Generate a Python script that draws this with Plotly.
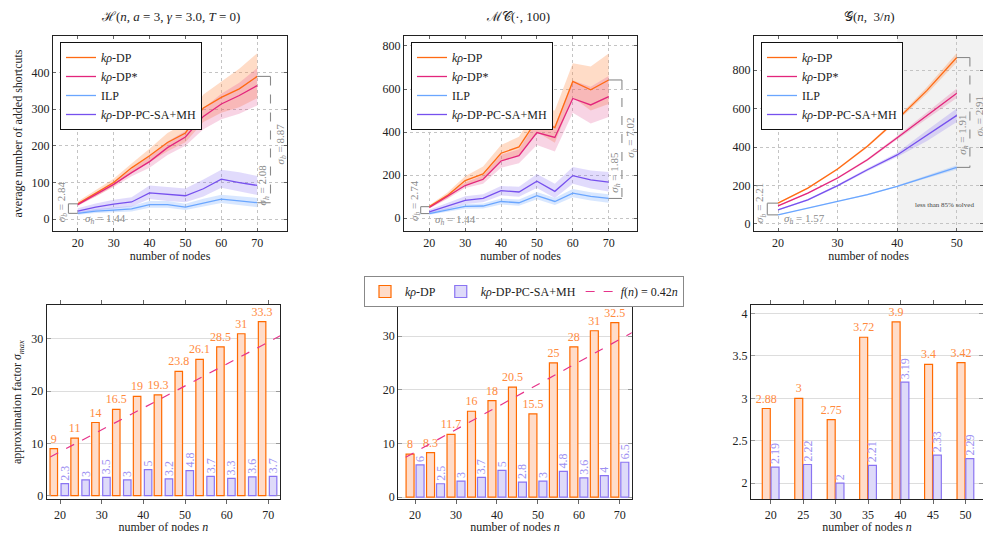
import plotly.graph_objects as go

# ---------------- DATA ----------------
n_top = [20, 25, 30, 35, 40, 45, 50, 55, 60, 65, 70]
n_g = [20, 25, 30, 35, 40, 45, 50]

# H(n, a=3, gamma=3.0, T=0)
h_dp = [42, 70, 100, 140, 173, 209, 235, 303, 332, 355, 389]
h_dp_up = [48, 78, 110, 152, 192, 235, 262, 340, 375, 410, 452]
h_dp_lo = [38, 62, 90, 128, 155, 185, 210, 265, 290, 305, 330]
h_dps = [40, 67, 95, 127, 157, 195, 224, 280, 314, 337, 364]
h_dps_up = [44, 73, 101, 136, 172, 212, 240, 302, 342, 372, 412]
h_dps_lo = [36, 61, 88, 117, 140, 175, 200, 245, 272, 287, 310]
h_ilp = [16, 22, 25, 28, 40, 40, 33, 45, 55, 50, 45]
h_ilp_up = [20, 28, 32, 36, 50, 50, 42, 56, 67, 63, 58]
h_ilp_lo = [12, 17, 19, 21, 31, 31, 25, 35, 44, 39, 33]
h_pc = [22, 33, 41, 47, 72, 68, 64, 83, 109, 100, 92]
h_pc_up = [30, 43, 53, 60, 92, 88, 84, 108, 135, 128, 118]
h_pc_lo = [15, 24, 30, 35, 55, 50, 46, 62, 86, 77, 66]

# MC(., 100)
m_dp = [54, 105, 175, 206, 302, 331, 457, 421, 635, 596, 642]
m_dp_up = [60, 118, 195, 240, 340, 378, 510, 500, 720, 705, 765]
m_dp_lo = [48, 92, 155, 175, 265, 290, 400, 350, 560, 500, 530]
m_dps = [50, 100, 152, 181, 266, 291, 398, 375, 556, 526, 565]
m_dps_up = [55, 110, 166, 200, 295, 320, 450, 430, 640, 610, 660]
m_dps_lo = [45, 90, 140, 160, 235, 255, 340, 310, 490, 440, 470]
m_ilp = [22, 38, 55, 57, 78, 72, 105, 78, 117, 102, 92]
m_ilp_up = [28, 47, 66, 69, 92, 87, 122, 94, 136, 121, 112]
m_ilp_lo = [16, 30, 44, 46, 64, 58, 88, 62, 98, 83, 72]
m_pc = [30, 55, 83, 92, 128, 122, 172, 125, 198, 178, 168]
m_pc_up = [40, 70, 102, 112, 150, 146, 205, 160, 238, 222, 215]
m_pc_lo = [22, 42, 66, 74, 106, 100, 140, 94, 160, 138, 124]

# G(n, 3/n)
g_dp = [108, 186, 286, 404, 543, 695, 866]
g_dp_up = [111, 190, 291, 410, 552, 712, 890]
g_dp_lo = [105, 182, 281, 398, 534, 678, 842]
g_dps = [94, 160, 239, 334, 448, 565, 680]
g_dps_up = [97, 164, 244, 340, 457, 582, 705]
g_dps_lo = [91, 156, 234, 328, 439, 548, 655]
g_ilp = [47, 82, 120, 152, 195, 245, 294]
g_ilp_up = [49, 85, 123, 156, 200, 252, 305]
g_ilp_lo = [45, 79, 117, 148, 190, 238, 283]
g_pc = [73, 125, 199, 282, 359, 460, 565]
g_pc_up = [76, 130, 205, 290, 370, 488, 600]
g_pc_lo = [70, 120, 193, 274, 348, 432, 530]

# approximation factors
bl_dp = [9, 11, 14, 16.5, 19, 19.3, 23.8, 26.1, 28.5, 31, 33.3]
bl_pc = [2.3, 3, 3.5, 3, 5, 3.2, 4.8, 3.7, 3.3, 3.6, 3.7]
bm_dp = [8, 8.3, 11.7, 16, 18, 20.5, 15.5, 25, 28, 31, 32.5]
bm_pc = [6, 2.5, 3, 3.7, 5, 2.8, 3, 4.8, 3.6, 4, 6.5]
br_dp = [2.88, 3, 2.75, 3.72, 3.9, 3.4, 3.42]
br_pc = [2.19, 2.22, 2, 2.21, 3.19, 2.33, 2.29]

fn_coef = 0.42
fn_n = [10, 80]

sig_labels = {
    "h": ("2.84", "1.44", "2.08", "8.87"),
    "m": ("2.74", "1.44", "1.85", "7.02"),
    "g": ("2.21", "1.57", "1.91", "2.91"),
}

# ---------------- STYLE ----------------
FONT = "Liberation Serif"
C_DP = "#ff6a13"
C_DPS = "#e3257c"
C_ILP = "#6aa6ff"
C_PC = "#7650ee"
B_DP = "rgba(255,140,70,0.30)"
B_DPS = "rgba(225,60,130,0.22)"
B_ILP = "rgba(100,160,255,0.25)"
B_PC = "rgba(120,90,240,0.22)"
GRAY = "#8a8a8a"

fig = go.Figure()


def band(x, up, lo, col, xa, ya):
    fig.add_trace(go.Scatter(x=list(x) + list(x)[::-1], y=list(up) + list(lo)[::-1],
                             fill="toself", fillcolor=col, line=dict(width=0),
                             mode="lines", hoverinfo="skip", showlegend=False,
                             xaxis=xa, yaxis=ya))


def line(x, y, col, name, xa, ya, leg):
    fig.add_trace(go.Scatter(x=x, y=y, mode="lines", line=dict(color=col, width=1.3),
                             name=name, xaxis=xa, yaxis=ya, legend=leg))


names = ["<i>kρ</i>-DP", "<i>kρ</i>-DP*", "ILP", "<i>kρ</i>-DP-PC-SA+MH"]
panels = [
    ("x", "y", "legend", n_top, (h_dp, h_dp_up, h_dp_lo), (h_dps, h_dps_up, h_dps_lo),
     (h_ilp, h_ilp_up, h_ilp_lo), (h_pc, h_pc_up, h_pc_lo)),
    ("x2", "y2", "legend2", n_top, (m_dp, m_dp_up, m_dp_lo), (m_dps, m_dps_up, m_dps_lo),
     (m_ilp, m_ilp_up, m_ilp_lo), (m_pc, m_pc_up, m_pc_lo)),
    ("x3", "y3", "legend3", n_g, (g_dp, g_dp_up, g_dp_lo), (g_dps, g_dps_up, g_dps_lo),
     (g_ilp, g_ilp_up, g_ilp_lo), (g_pc, g_pc_up, g_pc_lo)),
]
for xa, ya, leg, xs, dp, dps, ilp, pc in panels:
    band(xs, dp[1], dp[2], B_DP, xa, ya)
    band(xs, dps[1], dps[2], B_DPS, xa, ya)
    band(xs, ilp[1], ilp[2], B_ILP, xa, ya)
    band(xs, pc[1], pc[2], B_PC, xa, ya)
    line(xs, dp[0], C_DP, names[0], xa, ya, leg)
    line(xs, dps[0], C_DPS, names[1], xa, ya, leg)
    line(xs, ilp[0], C_ILP, names[2], xa, ya, leg)
    line(xs, pc[0], C_PC, names[3], xa, ya, leg)

# ---- bars ----
BAR_DP_FILL, BAR_DP_LINE, BAR_DP_TXT = "#ffdcc9", "#ff6a00", "#ff8a3d"
BAR_PC_FILL, BAR_PC_LINE, BAR_PC_TXT = "#dedaf9", "#8a74f2", "#9d90f2"

bar_sets = [
    ("x4", "y4", n_top, bl_dp, bl_pc, -2.4, 0.24, 1.8, True),
    ("x5", "y5", n_top, bm_dp, bm_pc, -2.2, 0.24, 1.95, False),
    ("x6", "y6", n_g, br_dp, br_pc, -1.3, 0.05, 1.23, False),
]
for xa, ya, xs, dpv, pcv, off1, off2, w, showleg in bar_sets:
    fig.add_trace(go.Bar(x=xs, y=dpv, offset=off1, width=w, xaxis=xa, yaxis=ya,
                         marker=dict(color=BAR_DP_FILL, line=dict(color=BAR_DP_LINE, width=1.2)),
                         text=[str(v) for v in dpv], textposition="outside",
                         textfont=dict(color=BAR_DP_TXT, size=12, family=FONT),
                         cliponaxis=False, constraintext="none",
                         name="<i>kρ</i>-DP", legend="legend4", showlegend=showleg))
    fig.add_trace(go.Bar(x=xs, y=pcv, offset=off2, width=w, xaxis=xa, yaxis=ya,
                         marker=dict(color=BAR_PC_FILL, line=dict(color=BAR_PC_LINE, width=1.2)),
                         text=[str(v) for v in pcv], textposition="outside", textangle=-90,
                         textfont=dict(color=BAR_PC_TXT, size=12, family=FONT),
                         cliponaxis=False, constraintext="none",
                         name="<i>kρ</i>-DP-PC-SA+MH", legend="legend4", showlegend=showleg))

for xa, ya, showleg in [("x4", "y4", True), ("x5", "y5", False)]:
    fig.add_trace(go.Scatter(x=fn_n, y=[fn_coef * v for v in fn_n], mode="lines",
                             line=dict(color="#e6338a", width=1.2, dash="dash"),
                             xaxis=xa, yaxis=ya, name="<i>f</i>(<i>n</i>) = 0.42<i>n</i>",
                             legend="legend4", showlegend=showleg))

# ---------------- LAYOUT ----------------
W, H = 983, 534


def dx(a, b):
    return [a / W, b / W]


def dy(top, bot):
    return [1 - bot / H, 1 - top / H]


tick_font = dict(family=FONT, size=12, color="#222")
title_font = dict(family=FONT, size=12, color="#222")

top_common = dict(showline=True, linecolor="#222", linewidth=1.2, mirror="ticks",
                  ticks="inside", ticklen=3, tickcolor="#666", showgrid=True,
                  gridcolor="#c4c4c4", griddash="dot", gridwidth=1, zeroline=False,
                  tickfont=tick_font, title_font=title_font, automargin=False)
bot_x = dict(showline=True, linecolor="#222", linewidth=1.2, mirror="ticks",
             ticks="outside", ticklen=4, tickcolor="#666", showgrid=False, zeroline=False,
             tickfont=tick_font, title_font=title_font, automargin=False)
bot_y = dict(showline=True, linecolor="#222", linewidth=1.2, mirror="ticks",
             ticks="inside", ticklen=4, tickcolor="#999", showgrid=True, gridcolor="#dddddd",
             gridwidth=1.2, zeroline=False, tickfont=tick_font, title_font=title_font,
             automargin=False)

TOPY = dy(36, 231)
BOTY = dy(305, 499.3)

layout = dict(
    width=W, height=H, margin=dict(l=0, r=0, t=0, b=0, autoexpand=False),
    paper_bgcolor="white", plot_bgcolor="white", barmode="overlay",
    font=dict(family=FONT, size=12, color="#222"),
    xaxis=dict(domain=dx(53, 287), anchor="y", range=[13.1, 78.3], dtick=10,
               title=dict(text="number of nodes", standoff=3), **top_common),
    yaxis=dict(domain=TOPY, anchor="x", range=[-32, 499], dtick=100,
               title=dict(text="average number of added shortcuts", standoff=6), **top_common),
    xaxis2=dict(domain=dx(404, 637), anchor="y2", range=[12.95, 77.9], dtick=10,
                title=dict(text="number of nodes", standoff=3), **top_common),
    yaxis2=dict(domain=TOPY, anchor="x2", range=[-59, 846], dtick=200, **top_common),
    xaxis3=dict(domain=dx(754, 983), anchor="y3", range=[15.97, 54.4], dtick=10,
                title=dict(text="number of nodes", standoff=3), **top_common),
    yaxis3=dict(domain=TOPY, anchor="x3", range=[-37, 978], dtick=200, **top_common),
    xaxis4=dict(domain=dx(46.7, 280), anchor="y4", range=[16.8, 72.8], dtick=10,
                title=dict(text="number of nodes <i>n</i>", standoff=2), **bot_x),
    yaxis4=dict(domain=BOTY, anchor="x4", range=[-0.7, 36.5], dtick=10,
                title=dict(text="approximation factor <i>σ<sub>max</sub></i>", standoff=6), **bot_y),
    xaxis5=dict(domain=dx(398.3, 631.7), anchor="y5", range=[15.9, 72.9], dtick=10,
                title=dict(text="number of nodes <i>n</i>", standoff=2), **bot_x),
    yaxis5=dict(domain=BOTY, anchor="x5", range=[-0.4, 35.8], dtick=10, **bot_y),
    xaxis6=dict(domain=dx(751, 983), anchor="y6", range=[16.96, 52.7], dtick=5,
                title=dict(text="number of nodes <i>n</i>", standoff=2), **bot_x),
    yaxis6=dict(domain=BOTY, anchor="x6", range=[1.81, 4.1], dtick=0.5, **bot_y),
)

leg_common = dict(bgcolor="white", bordercolor="#111", borderwidth=1,
                  font=dict(family=FONT, size=12, color="#222"), xanchor="left", yanchor="top",
                  itemwidth=30, tracegroupgap=0)
layout["legend"] = dict(x=60 / W, y=1 - 42 / H, **leg_common)
layout["legend2"] = dict(x=411 / W, y=1 - 42 / H, **leg_common)
layout["legend3"] = dict(x=761 / W, y=1 - 42 / H, **leg_common)
layout["legend4"] = dict(x=524 / W, y=1 - 276 / H, xanchor="center", yanchor="top",
                         orientation="h", bgcolor="white", bordercolor="#888", borderwidth=1,
                         font=dict(family=FONT, size=12, color="#222"), itemwidth=30)

fig.update_layout(**layout)

# titles
titles = [("ℋ(<i>n</i>, <i>a</i> = 3, <i>γ</i> = 3.0, <i>T</i> = 0)", 170),
          ("ℳ𝒞(·, 100)", 518),
          ("𝒢(<i>n</i>,  3/<i>n</i>)", 869)]
for txt, xc in titles:
    fig.add_annotation(text=txt, x=xc / W, y=1 - 17 / H, xref="paper", yref="paper",
                       xanchor="center", yanchor="middle",
                       showarrow=False, font=dict(family=FONT, size=13, color="#222"))

# shaded region in G panel
fig.add_shape(type="rect", xref="x3", yref="y3 domain", x0=n_g[4], x1=60, y0=0, y1=1,
              fillcolor="#f2f2f2", line=dict(width=0), layer="below")
fig.add_annotation(text="less than 85% solved", x=47.9, y=99, xref="x3", yref="y3",
                   showarrow=False, font=dict(family=FONT, size=7, color="#444"))

# sigma brackets
def bracket(xa, ya, x0, x1, ytop, ybot, dash):
    s = dict(type="line", xref=xa, yref=ya, line=dict(color=GRAY, width=1.1))
    fig.add_shape(x0=x0, x1=x1, y0=ytop, y1=ytop, **s)
    fig.add_shape(x0=x0, x1=x1, y0=ybot, y1=ybot, **s)
    s2 = dict(s)
    s2["line"] = dict(color=GRAY, width=1.1, dash="dash" if dash else "solid")
    fig.add_shape(x0=x1, x1=x1, y0=ytop, y1=ybot, **s2)


def sig(xa, ya, x, y, sub, val, rot):
    fig.add_annotation(text=f"<i>σ<sub>{sub}</sub></i> = {val}", x=x, y=y, xref=xa, yref=ya,
                       showarrow=False, textangle=-90 if rot else 0,
                       font=dict(family=FONT, size=11, color=GRAY))


# H panel
bracket("x", "y", n_top[0], n_top[0] - 2.6, h_dp[0], h_ilp[0], False)
bracket("x", "y", n_top[-1], n_top[-1] + 3.7, h_dp[-1], h_ilp[-1], True)
sb, sh, sh2, sb2 = sig_labels["h"]
sig("x", "y", 15.5, 48, "b", sb, True)
sig("x", "y", 27.6, 1, "h", sh, False)
sig("x", "y", 71.7, 93, "h", sh2, True)
sig("x", "y", 76.5, 205, "b", sb2, True)

# MC panel
bracket("x2", "y2", n_top[0], n_top[0] - 2.4, m_dp[0], m_ilp[0], False)
bracket("x2", "y2", n_top[-1], n_top[-1] + 3.7, m_dp[-1], m_ilp[-1], True)
sb, sh, sh2, sb2 = sig_labels["m"]
sig("x2", "y2", 16.0, 85, "b", sb, True)
sig("x2", "y2", 27.4, -8, "h", sh, False)
sig("x2", "y2", 71.7, 215, "h", sh2, True)
sig("x2", "y2", 76.4, 372, "b", sb2, True)

# G panel
bracket("x3", "y3", n_g[0], n_g[0] - 1.8, g_dp[0], g_ilp[0], False)
bracket("x3", "y3", n_g[-1], n_g[-1] + 2.2, g_dp[-1], g_ilp[-1], True)
sb, sh, sh2, sb2 = sig_labels["g"]
sig("x3", "y3", 17.0, 110, "b", sb, True)
sig("x3", "y3", 24.5, 26, "h", sh, False)
sig("x3", "y3", 50.9, 465, "h", sh2, True)
sig("x3", "y3", 53.9, 560, "b", sb2, True)

fig.write_html("out.html", config={"displayModeBar": False},
               post_script="document.body.style.margin='0';")
